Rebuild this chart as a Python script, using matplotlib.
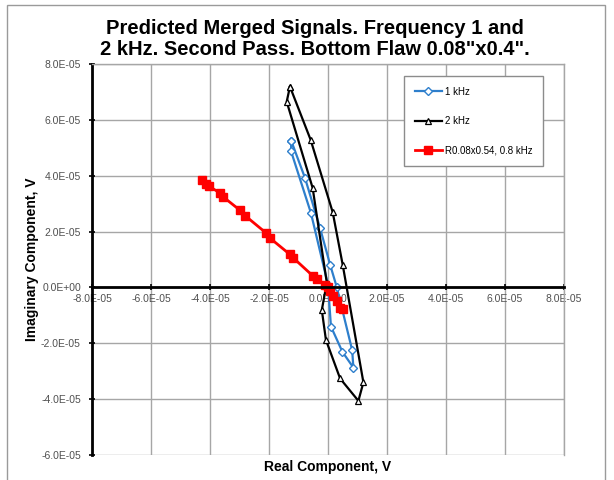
import matplotlib.pyplot as plt
from matplotlib.patches import Rectangle
from matplotlib.ticker import FuncFormatter, MultipleLocator

plt.rcParams['font.family'] = ['Liberation Sans', 'DejaVu Sans']

# valores em unidades de 1E-05 V
x_1khz = [-1.25, -0.78, -0.27, 0.07, 0.30, 0.82, 0.86, 0.49, 0.10, 0.00, -0.58, -1.25, -1.25]
y_1khz = [5.26, 3.92, 2.13, 0.82, 0.00, -2.25, -2.87, -2.31, -1.40, 0.10, 2.67, 4.87, 5.26]

x_2khz = [-1.29, -0.59, 0.16, 0.50, 1.20, 1.03, 0.41, -0.07, -0.21, -0.04, -0.52, -1.40, -1.29]
y_2khz = [7.19, 5.29, 2.69, 0.80, -3.40, -4.06, -3.26, -1.88, -0.81, 0.17, 3.56, 6.65, 7.19]

x_r = [-4.28, -4.14, -4.03, -3.66, -3.55, -2.98, -2.81, -2.10, -1.97, -1.29, -1.18,
       -0.50, -0.38, -0.10, 0.00, 0.07, 0.18, 0.29, 0.41, 0.52]
y_r = [3.83, 3.71, 3.62, 3.38, 3.24, 2.76, 2.57, 1.95, 1.77, 1.18, 1.06,
       0.40, 0.29, 0.08, 0.00, -0.13, -0.31, -0.49, -0.73, -0.79]

legendas = ["1 kHz", "2 kHz", "R0.08x0.54, 0.8 kHz"]
titulo = 'Predicted Merged Signals. Frequency 1 and\n2 kHz. Second Pass. Bottom Flaw 0.08"x0.4".'

escala = 1e-5

fig = plt.figure(figsize=(6.14, 4.8), dpi=100)
fig.patches.append(Rectangle((7 / 614, -0.1), 598 / 614, 1.1 - 5 / 480,
                             transform=fig.transFigure, fill=False,
                             edgecolor='#9a9a9a', linewidth=1))

ax = fig.add_axes([92 / 614, 25 / 480, 472 / 614, 391 / 480])

azul = '#2E7FCC'
ax.plot([v * escala for v in x_1khz], [v * escala for v in y_1khz], '-', color=azul,
        lw=1.6, marker='D', ms=4, mfc='white', mec=azul, mew=1, label=legendas[0])
ax.plot([v * escala for v in x_2khz], [v * escala for v in y_2khz], '-', color='black',
        lw=1.6, marker='^', ms=5, mfc='white', mec='black', mew=0.9, label=legendas[1])
ax.plot([v * escala for v in x_r], [v * escala for v in y_r], '-', color='#FF0000',
        lw=2, marker='s', ms=6, mfc='#FF0000', mec='#FF0000', label=legendas[2])

ax.set_xlim(-8e-5, 8e-5)
ax.set_ylim(-6e-5, 8e-5)
ax.xaxis.set_major_locator(MultipleLocator(2e-5))
ax.yaxis.set_major_locator(MultipleLocator(2e-5))
fmt = FuncFormatter(lambda v, p: f"{v:.1E}")
ax.xaxis.set_major_formatter(fmt)
ax.yaxis.set_major_formatter(fmt)

ax.grid(True, color='#a6a6a6', linewidth=1)
ax.set_axisbelow(True)

ax.spines['bottom'].set_position(('data', 0))
ax.spines['bottom'].set_linewidth(2)
ax.spines['left'].set_linewidth(2)
for s in ['top', 'right']:
    ax.spines[s].set_color('#a6a6a6')
    ax.spines[s].set_linewidth(1)

ax.tick_params(axis='both', labelsize=7.5, labelcolor='#505050', direction='inout',
               length=4, width=1.2, color='black')
ax.tick_params(axis='x', pad=3)
ax.tick_params(axis='y', pad=6)

ax.set_xlabel("Real Component, V", fontsize=10, fontweight='bold')
ax.set_ylabel("Imaginary Component, V", fontsize=10, fontweight='bold')
ax.xaxis.set_label_coords(0.5, (455 - 460) / 391)
ax.yaxis.set_label_coords((39 - 92) / 472, 0.5)

fig.text(315 / 614, 1 - 39 / 480, titulo, ha='center', va='center',
         fontsize=14.5, fontweight='bold', linespacing=1.1)

leg = ax.legend(loc='upper left', bbox_to_anchor=((404 - 92) / 472, (455 - 76) / 391),
                fontsize=7, labelspacing=2.0, handlelength=2.8, handletextpad=0.3,
                borderpad=1.1, fancybox=False, framealpha=1, edgecolor='#8c8c8c',
                borderaxespad=0)
leg.get_frame().set_linewidth(1)

fig.savefig("out.png", dpi=100)
